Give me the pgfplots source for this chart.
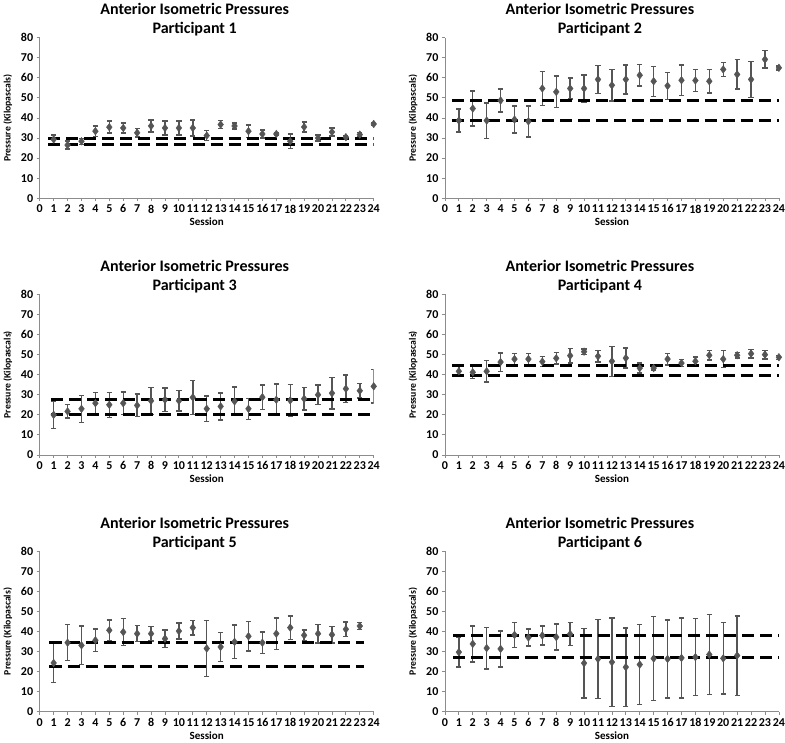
\documentclass[border=0pt]{standalone}
\usepackage{fontspec}
\setmainfont{Carlito}
\usepackage{pgfplots}
\pgfplotsset{compat=1.18}
\usepgfplotslibrary{groupplots}
\usepackage{pgfplotstable}

\definecolor{pt}{HTML}{555555}
\definecolor{ax}{HTML}{8C8C8C}

% session, mean, error
\pgfplotstableread{
x y e
1 29.3 2.3
2 26.5 2.0
3 28.4 1.5
4 33.4 2.5
5 35.4 3.0
6 35.0 2.5
7 32.6 2.0
8 36.0 3.0
9 35.0 3.5
10 35.0 3.5
11 35.0 4.0
12 31.2 2.5
13 36.7 2.0
14 36.0 1.5
15 33.4 3.0
16 32.0 2.0
17 32.0 0.8
18 28.4 3.5
19 35.5 2.5
20 30.0 1.5
21 33.0 2.0
22 30.4 1.0
23 31.7 1.0
24 37.0 0.8
}\pone
\pgfplotstableread{
x y e
1 38.7 5.7
2 44.7 8.7
3 38.7 8.8
4 48.7 5.7
5 39.2 6.7
6 38.3 7.7
7 54.7 8.5
8 53.0 7.9
9 54.7 5.2
10 54.7 6.7
11 59.2 6.9
12 56.3 7.8
13 59.2 7.3
14 61.3 5.3
15 58.3 7.5
16 56.0 6.7
17 58.8 7.7
18 58.7 5.6
19 58.3 5.8
20 64.2 3.5
21 61.7 7.3
22 59.2 9.0
23 69.2 4.3
24 65.0 1.0
}\ptwo
\pgfplotstableread{
x y e
1 20.0 6.9
2 21.7 3.3
3 23.0 6.7
4 25.8 5.4
5 25.0 6.2
6 25.8 5.6
7 24.7 5.6
8 27.0 6.7
9 27.5 5.8
10 27.0 5.0
11 28.7 8.5
12 23.0 6.3
13 24.2 6.7
14 26.7 7.1
15 23.0 5.2
16 28.8 6.1
17 27.5 7.8
18 27.2 7.8
19 28.0 5.6
20 30.0 4.8
21 30.8 7.9
22 33.0 6.8
23 32.0 3.7
24 34.2 8.3
}\pthree
\pgfplotstableread{
x y e
1 41.7 2.5
2 41.2 3.2
3 41.7 5.4
4 46.3 4.6
5 47.8 2.7
6 47.8 2.9
7 46.5 2.5
8 48.2 2.9
9 49.5 3.7
10 51.5 1.4
11 49.2 2.9
12 46.7 7.5
13 48.3 5.0
14 43.3 2.5
15 43.3 1.0
16 47.8 2.9
17 45.8 1.7
18 46.7 2.2
19 49.7 2.3
20 47.8 4.3
21 49.7 1.4
22 50.5 2.1
23 50.0 2.2
24 48.7 1.0
}\pfour
\pgfplotstableread{
x y e
1 24.3 9.6
2 34.4 9.0
3 33.1 9.7
4 35.6 5.6
5 40.6 5.1
6 39.7 6.8
7 38.9 4.0
8 38.9 3.6
9 36.4 4.3
10 40.2 4.0
11 41.9 3.6
12 31.5 13.9
13 32.3 7.2
14 34.8 8.4
15 37.6 7.4
16 34.4 5.4
17 38.9 7.8
18 41.9 5.9
19 38.1 2.6
20 38.9 4.6
21 38.4 4.1
22 41.1 3.7
23 42.7 1.8
}\pfive
\pgfplotstableread{
x y e
1 29.7 7.5
2 33.8 9.0
3 31.7 10.4
4 31.3 9.0
5 38.3 6.3
6 37.0 4.3
7 38.0 4.7
8 37.2 6.5
9 38.7 5.8
10 24.2 17.3
11 26.3 19.7
12 24.7 22.0
13 22.2 19.6
14 23.5 20.0
15 26.5 21.0
16 26.3 19.5
17 26.8 20.0
18 27.2 19.2
19 28.5 20.0
20 26.6 17.8
21 28.0 19.8
}\psix

\pgfplotsset{
  pres/.style={
    width=333pt, height=160pt, scale only axis,
    xmin=0, xmax=24, ymin=0, ymax=80,
    xtick={0,...,24}, ytick={0,10,...,80},
    axis x line*=bottom, axis y line*=left,
    axis line style={ax, line width=0.8pt, -},
    tick style={ax, line width=0.8pt}, tick align=outside, major tick length=3pt,
    tick label style={font=\fontsize{12}{12}\selectfont\bfseries},
    xticklabel style={inner xsep=0pt},
    /pgf/number format/assume math mode=true,
    title style={font=\fontsize{16}{19}\selectfont\bfseries, align=center, xshift=-12pt, yshift=-8pt},
    xlabel=Session, ylabel=Pressure (Kilopascals),
    xlabel style={font=\fontsize{11}{11}\selectfont\bfseries, yshift=2pt},
    ylabel style={font=\fontsize{9.7}{10}\selectfont\bfseries, yshift=2pt},
  },
  base/.style={black, line width=3pt, dash pattern=on 12pt off 6pt},
  obs/.style={only marks, mark=diamond*, mark size=3.8pt,
    mark options={fill=pt, draw=pt}, pt,
    error bars/.cd, y dir=both, y explicit,
    error bar style={pt, line width=1.4pt},
    error mark options={rotate=90, mark size=2.6pt, pt, line width=1.4pt}},
}

\begin{document}
\begin{tikzpicture}
\begin{groupplot}[group style={group size=2 by 3, horizontal sep=71pt, vertical sep=96pt}, pres]
\nextgroupplot[title={Anterior Isometric Pressures\\Participant 1}]
\addplot[obs] table[x=x, y=y, y error=e] {\pone};
\addplot[base] coordinates {(0.6,30) (24,30)};
\addplot[base] coordinates {(0.6,27) (24,27)};

\nextgroupplot[title={Anterior Isometric Pressures\\Participant 2}]
\addplot[obs] table[x=x, y=y, y error=e] {\ptwo};
\addplot[base] coordinates {(0.5,48.7) (24,48.7)};
\addplot[base] coordinates {(0.5,38.7) (24,38.7)};

\nextgroupplot[title={Anterior Isometric Pressures\\Participant 3}]
\addplot[obs] table[x=x, y=y, y error=e] {\pthree};
\addplot[base] coordinates {(0.8,27.5) (24,27.5)};
\addplot[base] coordinates {(0.8,20.3) (24,20.3)};

\nextgroupplot[title={Anterior Isometric Pressures\\Participant 4}]
\addplot[obs] table[x=x, y=y, y error=e] {\pfour};
\addplot[base] coordinates {(0.5,44.7) (24,44.7)};
\addplot[base] coordinates {(0.5,39.5) (24,39.5)};

\nextgroupplot[title={Anterior Isometric Pressures\\Participant 5}]
\addplot[obs] table[x=x, y=y, y error=e] {\pfive};
\addplot[base] coordinates {(0.7,34.4) (23.3,34.4)};
\addplot[base] coordinates {(0.7,22.3) (23.3,22.3)};

\nextgroupplot[title={Anterior Isometric Pressures\\Participant 6}]
\addplot[obs] table[x=x, y=y, y error=e] {\psix};
\addplot[base] coordinates {(0.6,38) (24,38)};
\addplot[base] coordinates {(0.6,27.2) (24,27.2)};
\end{groupplot}
\end{tikzpicture}
\end{document}
